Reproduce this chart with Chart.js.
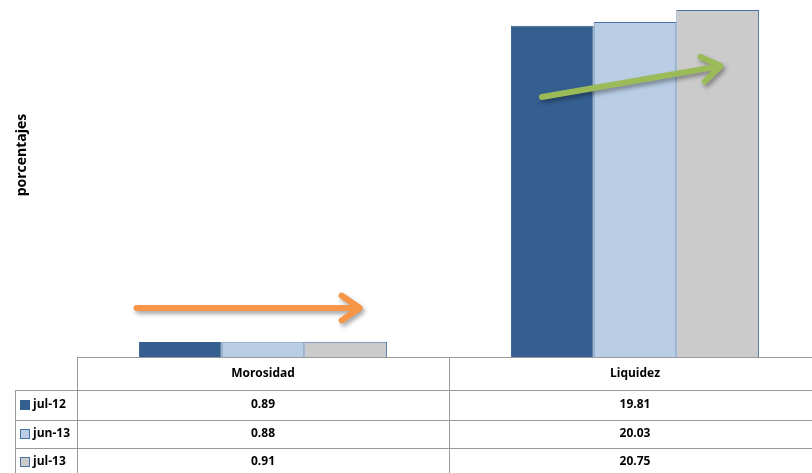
<!DOCTYPE html>
<html>
<head>
<meta charset="utf-8">
<script src="https://cdn.jsdelivr.net/npm/chart.js@4.4.1/dist/chart.umd.min.js"></script>
<style>
  html, body { margin: 0; padding: 0; background: #fff; overflow: hidden; }
  #view { width: 812px; height: 473px; overflow: hidden; }
  #wrap { position: relative; width: 821px; height: 473px; }
</style>
</head>
<body>
<div id="view"><div id="wrap"><canvas id="indicadores"></canvas></div></div>
<script>
(function() {
  'use strict';

  var CATEGORIES = ['Morosidad', 'Liquidez'];
  var SERIES     = ['jul-12', 'jun-13', 'jul-13'];
  var JUL_12     = [0.89, 19.81];
  var JUN_13     = [0.88, 20.03];
  var JUL_13     = [0.91, 20.75];
  var Y_MAX      = 21.35;

  var DARK_BLUE  = '#355f91';
  var LIGHT_BLUE = '#b9cde5';
  var GREY       = '#cbcbcb';
  var EDGE       = '#4a72a6';
  var LINE       = '#9a9a9a';
  var FONT       = "'Open Sans', 'Lato', sans-serif";

  var fills   = [DARK_BLUE, LIGHT_BLUE, GREY];
  var borders = ['#34608f', EDGE, EDGE];
  var values  = [JUL_12, JUN_13, JUL_13];

  // table under the plot: header row + one row per series
  var tablePlugin = {
    id: 'dataTable',
    afterDraw: function(chart) {
      var c = chart.ctx;
      var area = chart.chartArea;
      var x = chart.scales.x;
      var catW = (area.right - area.left) / CATEGORIES.length;
      var top = area.bottom;
      var rowH = [33, 30, 28, 28];
      var rowY = [top];
      for (var r = 0; r < rowH.length; r++) rowY.push(rowY[r] + rowH[r]);
      var legendLeft = 15;

      c.save();
      c.strokeStyle = LINE;
      c.lineWidth = 1;

      // horizontal rules
      c.beginPath();
      c.moveTo(area.left, top + 0.5);
      c.lineTo(area.right, top + 0.5);
      for (var h = 1; h < rowY.length - 1; h++) {
        c.moveTo(legendLeft, Math.round(rowY[h]) + 0.5);
        c.lineTo(area.right, Math.round(rowY[h]) + 0.5);
      }
      // vertical rules
      for (var v = 0; v <= CATEGORIES.length; v++) {
        var vx = Math.round(area.left + v * catW) + 0.5;
        c.moveTo(vx, top);
        c.lineTo(vx, rowY[rowY.length - 1]);
      }
      c.moveTo(legendLeft + 0.5, rowY[1]);
      c.lineTo(legendLeft + 0.5, rowY[rowY.length - 1]);
      c.stroke();

      c.fillStyle = '#000';
      c.font = 'bold 12px ' + FONT;
      c.textBaseline = 'middle';
      c.textAlign = 'center';
      CATEGORIES.forEach(function(name, i) {
        c.fillText(name, x.getPixelForValue(i), (rowY[0] + rowY[1]) / 2);
      });

      SERIES.forEach(function(name, s) {
        var cy = (rowY[s + 1] + rowY[s + 2]) / 2;
        // legend key
        c.fillStyle = fills[s];
        c.strokeStyle = borders[s];
        c.fillRect(20, cy - 5, 9, 9);
        c.strokeRect(20.5, cy - 4.5, 9, 9);
        c.fillStyle = '#000';
        c.textAlign = 'left';
        c.fillText(name, 33, cy);
        c.textAlign = 'center';
        values[s].forEach(function(val, i) {
          c.fillText(val.toFixed(2), x.getPixelForValue(i), cy);
        });
      });
      c.restore();
    }
  };

  // trend arrows drawn over the bars
  var arrowPlugin = {
    id: 'trendArrows',
    afterDatasetsDraw: function(chart) {
      var c = chart.ctx;
      var area = chart.chartArea;
      var catW = (area.right - area.left) / CATEGORIES.length;
      var arrows = [
        { color: '#f79646', x0: area.left + 0.16 * catW, y0: 308, x1: area.left + 0.76 * catW, y1: 308 },
        { color: '#9bbb59', x0: area.left + 1.25 * catW, y0: 97, x1: area.left + 1.73 * catW, y1: 66 }
      ];
      arrows.forEach(function(a) {
        var ang = Math.atan2(a.y1 - a.y0, a.x1 - a.x0);
        var head = 22;
        c.save();
        c.shadowColor = 'rgba(0,0,0,0.35)';
        c.shadowBlur = 4;
        c.shadowOffsetX = 2;
        c.shadowOffsetY = 3;
        c.strokeStyle = a.color;
        c.lineWidth = 6;
        c.lineCap = 'round';
        c.lineJoin = 'round';
        c.beginPath();
        c.moveTo(a.x0, a.y0);
        c.lineTo(a.x1 - 2 * Math.cos(ang), a.y1 - 2 * Math.sin(ang));
        c.moveTo(a.x1 - head * Math.cos(ang - 0.6), a.y1 - head * Math.sin(ang - 0.6));
        c.lineTo(a.x1, a.y1);
        c.lineTo(a.x1 - head * Math.cos(ang + 0.6), a.y1 - head * Math.sin(ang + 0.6));
        c.stroke();
        c.restore();
      });
    }
  };

  // rotated axis caption
  var captionPlugin = {
    id: 'yCaption',
    afterDraw: function(chart) {
      var c = chart.ctx;
      c.save();
      c.translate(22, 155);
      c.rotate(-Math.PI / 2);
      c.fillStyle = '#000';
      c.font = 'bold 14px ' + FONT;
      c.textAlign = 'center';
      c.textBaseline = 'middle';
      c.fillText('porcentajes', 0, 0);
      c.restore();
    }
  };

  new Chart(document.getElementById('indicadores'), {
    type: 'bar',
    data: {
      labels: CATEGORIES,
      datasets: SERIES.map(function(name, s) {
        return {
          label: name,
          data: values[s],
          backgroundColor: fills[s],
          borderColor: borders[s],
          borderWidth: 1,
          borderSkipped: 'bottom'
        };
      })
    },
    options: {
      responsive: true,
      maintainAspectRatio: false,
      animation: false,
      layout: { padding: { left: 77, right: 0, top: 0, bottom: 116 } },
      datasets: { bar: { categoryPercentage: 0.667, barPercentage: 1 } },
      plugins: {
        legend: { display: false },
        tooltip: { enabled: false }
      },
      scales: {
        x: { display: false },
        y: { display: false, min: 0, max: Y_MAX }
      }
    },
    plugins: [arrowPlugin, tablePlugin, captionPlugin]
  });
})();
</script>
</body>
</html>
